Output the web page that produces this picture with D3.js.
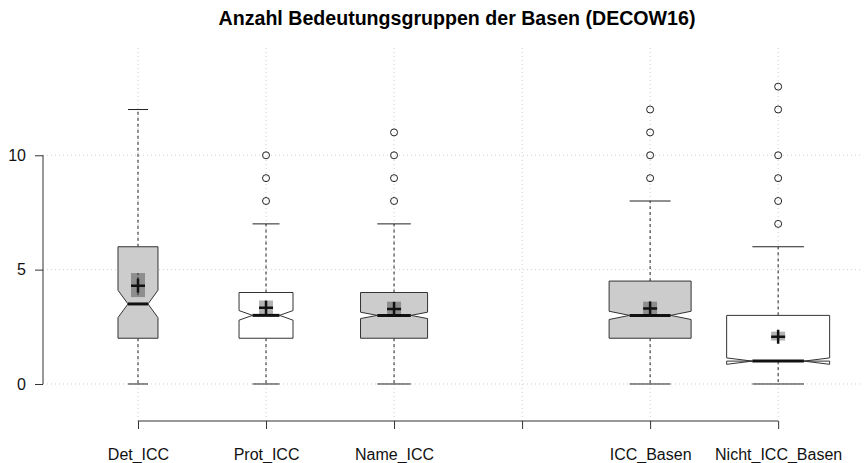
<!DOCTYPE html>
<html>
<head>
<meta charset="utf-8">
<script src="https://cdn.jsdelivr.net/npm/d3@7"></script>
<style>
  body { margin: 0; background: #fff; }
  text { font-family: "Liberation Sans", Arial, sans-serif; }
</style>
</head>
<body>
<svg id="chart"></svg>
<script>
// box statistics
var groups = ["Det_ICC", "Prot_ICC", "Name_ICC", "ICC_Basen", "Nicht_ICC_Basen"];
var groupAt = [1, 2, 3, 5, 6];           // slot 4 stays empty
var sampleN = [100, 182, 281, 420, 663]; // relative sizes (varwidth)
var whiskerLo = [0, 0, 0, 0, 0];
var q1 = [2, 2, 2, 2, 1];
var medians = [3.5, 3, 3, 3, 1];
var q3 = [6, 4, 4, 4.5, 3];
var whiskerHi = [12, 7, 7, 8, 6];
var notchLo = [2.9, 2.79, 2.86, 2.82, 0.86];
var notchHi = [4.1, 3.21, 3.14, 3.18, 1.14];
var means = [4.3, 3.33, 3.28, 3.3, 2.07];
var meanLo = [3.8, 3.03, 2.95, 2.98, 1.9];
var meanHi = [4.85, 3.65, 3.6, 3.6, 2.29];
var outliers = [[], [8, 9, 10], [8, 9, 10, 11], [9, 10, 11, 12], [7, 8, 9, 10, 12, 13]];
var yTicks = [0, 5, 10];
var xSlots = [1, 2, 3, 4, 5, 6];
var title = "Anzahl Bedeutungsgruppen der Basen (DECOW16)";

var boxFill = ["#cccccc", "#ffffff", "#cccccc", "#cccccc", "#ffffff"];

var W = 864, H = 463;
var svg = d3.select("#chart").attr("width", W).attr("height", H);

var plot = {left: 43, right: 862, top: 48, bottom: 421};

var x = d3.scaleLinear().domain([0.258, 6.655]).range([plot.left, plot.right]);
var y = d3.scaleLinear().domain([-1.618, 14.69]).range([plot.bottom, plot.top]);

var maxW = 103;
var nMax = d3.max(sampleN);

// grid
var grid = svg.append("g").attr("stroke", "#cfcfcf").attr("stroke-dasharray", "1,3");
grid.selectAll("line.v")
  .data(xSlots)
  .enter().append("line")
    .attr("x1", function(d) { return x(d); })
    .attr("x2", function(d) { return x(d); })
    .attr("y1", plot.top).attr("y2", plot.bottom);
grid.selectAll("line.h")
  .data(yTicks)
  .enter().append("line")
    .attr("x1", plot.left).attr("x2", plot.right)
    .attr("y1", function(d) { return y(d); })
    .attr("y2", function(d) { return y(d); });

// title
svg.append("text")
  .attr("x", 457).attr("y", 25)
  .attr("text-anchor", "middle")
  .style("font-weight", "bold")
  .style("font-size", "19.6px")
  .text(title);

// y axis
var yAxis = svg.append("g")
  .attr("transform", "translate(" + plot.left + ",0)")
  .call(d3.axisLeft(y).tickValues(yTicks).tickSize(8).tickPadding(9).tickFormat(d3.format("d")));
yAxis.select(".domain").attr("d", "M0," + y(0) + "V" + y(10)).attr("stroke", "#333");
yAxis.selectAll(".tick line").attr("stroke", "#333");
yAxis.selectAll("text").style("font-size", "16px").attr("fill", "#111")
  .style("font-family", "Liberation Sans, Arial, sans-serif");

// x axis
var xAxis = svg.append("g")
  .attr("transform", "translate(0," + plot.bottom + ")")
  .call(d3.axisBottom(x).tickValues(xSlots).tickSize(8).tickPadding(20)
    .tickFormat(function(d) { var i = groupAt.indexOf(d); return i < 0 ? "" : groups[i]; }));
xAxis.select(".domain").attr("d", "M" + x(1) + ",0H" + x(6)).attr("stroke", "#333");
xAxis.selectAll(".tick line").attr("stroke", "#333");
xAxis.selectAll("text").style("font-size", "16px").attr("fill", "#111")
  .style("font-family", "Liberation Sans, Arial, sans-serif");

// boxes
var boxes = svg.selectAll("g.box")
  .data(groups.map(function(g, i) { return i; }))
  .enter().append("g").attr("class", "box");

boxes.each(function(i) {
  var g = d3.select(this);
  var cx = x(groupAt[i]);
  var hw = maxW * Math.sqrt(sampleN[i] / nMax) / 2;
  var nw = hw / 2;

  // whiskers
  g.append("line")
    .attr("x1", cx).attr("x2", cx)
    .attr("y1", y(q3[i])).attr("y2", y(whiskerHi[i]))
    .attr("stroke", "#222").attr("stroke-dasharray", "3,3");
  g.append("line")
    .attr("x1", cx).attr("x2", cx)
    .attr("y1", y(q1[i])).attr("y2", y(whiskerLo[i]))
    .attr("stroke", "#222").attr("stroke-dasharray", "3,3");
  [whiskerHi[i], whiskerLo[i]].forEach(function(v) {
    g.append("line")
      .attr("x1", cx - nw).attr("x2", cx + nw)
      .attr("y1", y(v)).attr("y2", y(v))
      .attr("stroke", "#222");
  });

  // notched box, same point order as R's bxp
  var pts = [
    [cx - hw, y(q1[i])], [cx - hw, y(notchLo[i])], [cx - nw, y(medians[i])],
    [cx - hw, y(notchHi[i])], [cx - hw, y(q3[i])], [cx + hw, y(q3[i])],
    [cx + hw, y(notchHi[i])], [cx + nw, y(medians[i])], [cx + hw, y(notchLo[i])],
    [cx + hw, y(q1[i])]
  ];
  g.append("path")
    .attr("d", d3.line()(pts) + "Z")
    .attr("fill", boxFill[i])
    .attr("stroke", "#333").attr("stroke-width", 1);

  // median
  g.append("line")
    .attr("x1", cx - nw).attr("x2", cx + nw)
    .attr("y1", y(medians[i])).attr("y2", y(medians[i]))
    .attr("stroke", "#111").attr("stroke-width", 3);

  // mean confidence square and mean cross
  g.append("rect")
    .attr("x", cx - 7).attr("width", 14)
    .attr("y", y(meanHi[i])).attr("height", y(meanLo[i]) - y(meanHi[i]))
    .attr("fill", "#000").attr("fill-opacity", 0.3);
  g.append("line")
    .attr("x1", cx).attr("x2", cx)
    .attr("y1", y(meanHi[i])).attr("y2", y(meanLo[i]))
    .attr("stroke", "#222").attr("stroke-dasharray", "2,2");
  var my = y(means[i]);
  g.append("path")
    .attr("d", "M" + (cx - 7) + "," + my + "H" + (cx + 7) + "M" + cx + "," + (my - 7) + "V" + (my + 7))
    .attr("stroke", "#111").attr("stroke-width", 2.5);

  // outliers
  g.selectAll("circle")
    .data(outliers[i])
    .enter().append("circle")
      .attr("cx", cx)
      .attr("cy", function(d) { return y(d); })
      .attr("r", 3.5)
      .attr("fill", "none").attr("stroke", "#222");
});
</script>
</body>
</html>
